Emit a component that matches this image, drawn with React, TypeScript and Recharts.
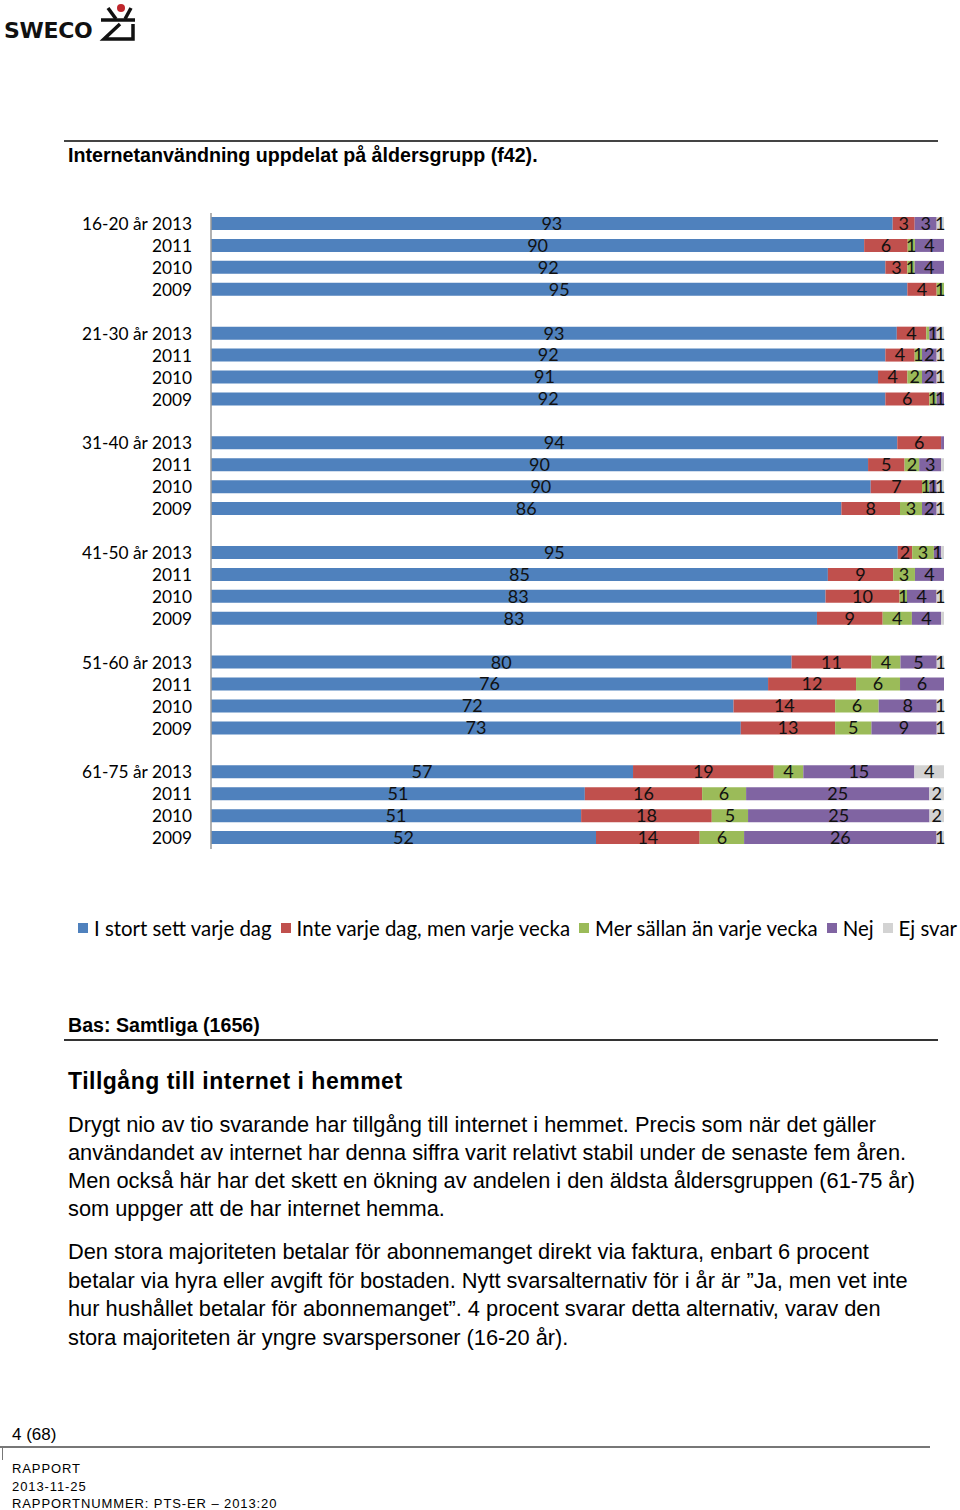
import React from 'react';
import { BarChart, Bar, XAxis, YAxis, LabelList } from 'recharts';

const groups = ['16-20 år', '21-30 år', '31-40 år', '41-50 år', '51-60 år', '61-75 år'];
const years = ['2013', '2011', '2010', '2009'];

// I stort sett varje dag
const dagligen = [93, 90, 92, 95, 93, 92, 91, 92, 94, 90, 90, 86, 95, 85, 83, 83, 80, 76, 72, 73, 57, 51, 51, 52];
// Inte varje dag, men varje vecka
const veckovis = [3, 6, 3, 4, 4, 4, 4, 6, 6, 5, 7, 8, 2, 9, 10, 9, 11, 12, 14, 13, 19, 16, 18, 14];
// Mer sällan än varje vecka
const sallan = [0, 1, 1, 1, 0.4, 1, 2, 1, 0, 2, 1, 3, 3, 3, 1, 4, 4, 6, 6, 5, 4, 6, 5, 6];
// Nej
const nej = [3, 4, 4, 0, 1, 2, 2, 1, 0.4, 3, 1, 2, 1, 4, 4, 4, 5, 6, 8, 9, 15, 25, 25, 26];
// Ej svar
const ejSvar = [1, 0, 0, 0, 1, 1, 1, 0, 0, 0.4, 1, 1, 0.4, 0, 1, 0.4, 1, 0, 1, 1, 4, 2, 2, 1];

const seriesNames = ['I stort sett varje dag', 'Inte varje dag, men varje vecka', 'Mer sällan än varje vecka', 'Nej', 'Ej svar'];
const seriesColors = ['#4F81BD', '#C0504D', '#9BBB59', '#8064A2', '#D3D3D3'];
const seriesKeys = ['d', 'v', 's', 'n', 'e'];

type Row = { id: string; label: string; d?: number; v?: number; s?: number; n?: number; e?: number };

const rows: Row[] = [];
groups.forEach((g, gi) => {
  if (gi > 0) rows.push({ id: 'gap' + gi, label: '' });
  years.forEach((y, yi) => {
    const i = gi * 4 + yi;
    rows.push({
      id: g + ' ' + y,
      label: yi === 0 ? g + ' ' + y : y,
      d: dagligen[i],
      v: veckovis[i],
      s: sallan[i],
      n: nej[i],
      e: ejSvar[i],
    });
  });
});

const labelMap: Record<string, string> = {};
rows.forEach((r) => (labelMap[r.id] = r.label));

const paragraph1 = [
  'Drygt nio av tio svarande har tillgång till internet i hemmet. Precis som när det gäller',
  'användandet av internet har denna siffra varit relativt stabil under de senaste fem åren.',
  'Men också här har det skett en ökning av andelen i den äldsta åldersgruppen (61-75 år)',
  'som uppger att de har internet hemma.',
];
const paragraph2 = [
  'Den stora majoriteten betalar för abonnemanget direkt via faktura, enbart 6 procent',
  'betalar via hyra eller avgift för bostaden. Nytt svarsalternativ för i år är ”Ja, men vet inte',
  'hur hushållet betalar för abonnemanget”. 4 procent svarar detta alternativ, varav den',
  'stora majoriteten är yngre svarspersoner (16-20 år).',
];

const fmt = (v: any) => (typeof v === 'number' && v >= 1 ? String(v) : '');

const abs = (top: number, left: number, extra: React.CSSProperties = {}): React.CSSProperties => ({
  position: 'absolute',
  top,
  left,
  whiteSpace: 'nowrap',
  ...extra,
});

export default function App() {
  return (
    <div style={{ position: 'absolute', top: 0, left: 0, width: 960, height: 1510, background: '#fff', overflow: 'hidden' }}>
      {/* Logo */}
      <div style={abs(18, 4, { fontFamily: 'DejaVu Sans', fontWeight: 'bold', fontSize: 22, color: '#111', letterSpacing: -0.3 })}>SWECO</div>
      <svg style={{ position: 'absolute', top: 0, left: 98 }} width={40} height={44}>
        <circle cx={23} cy={8} r={4} fill="#C0272D" />
        <line x1={10} y1={8} x2={18} y2={19} stroke="#111" strokeWidth={3.5} />
        <line x1={33} y1={8} x2={27} y2={19} stroke="#111" strokeWidth={3.5} />
        <line x1={3} y1={20} x2={37} y2={20} stroke="#111" strokeWidth={3.5} />
        <path d="M22 24 L6 39 L35 39 L35 24" fill="none" stroke="#111" strokeWidth={3.5} />
      </svg>

      {/* Header rule and title */}
      <div style={{ position: 'absolute', top: 140, left: 64, width: 874, height: 2, background: '#444' }} />
      <div
        style={abs(143, 68, {
          fontFamily: 'Liberation Sans',
          fontWeight: 'bold',
          fontSize: 21,
          color: '#000',
          transform: 'scaleX(0.936)',
          transformOrigin: 'left center',
        })}
      >
        Internetanvändning uppdelat på åldersgrupp (f42).
      </div>

      {/* Chart */}
      <div style={{ position: 'absolute', top: 200, left: 0 }}>
        <BarChart
          width={960}
          height={660}
          data={rows}
          layout="vertical"
          stackOffset="expand"
          barCategoryGap={0}
          margin={{ top: 13, right: 16, bottom: 11, left: 0 }}
        >
          <XAxis type="number" hide domain={[0, 1]} />
          <YAxis
            type="category"
            dataKey="id"
            width={211}
            interval={0}
            tickLine={false}
            tickSize={0}
            tickMargin={19}
            axisLine={{ stroke: '#999', strokeWidth: 1.5 }}
            tickFormatter={(v: string) => labelMap[v] ?? ''}
            tick={{ fontFamily: 'Lato', fontSize: 17.3, fill: '#000' }}
          />
          {seriesKeys.map((k, i) => (
            <Bar key={k} dataKey={k} name={seriesNames[i]} stackId="a" fill={seriesColors[i]} barSize={13} isAnimationActive={false}>
              <LabelList dataKey={k} position="center" formatter={fmt} style={{ fontFamily: 'Lato', fontSize: 18, fill: '#111' }} />
            </Bar>
          ))}
        </BarChart>
      </div>

      {/* Legend */}
      <div style={abs(916, 78, { display: 'flex', alignItems: 'center', fontFamily: 'Lato', fontSize: 20.4, color: '#000' })}>
        {seriesNames.map((n, i) => (
          <div key={n} style={{ display: 'flex', alignItems: 'center', marginRight: 9 }}>
            <span style={{ display: 'inline-block', width: 10, height: 10, background: seriesColors[i], marginRight: 6 }} />
            <span>{n}</span>
          </div>
        ))}
      </div>

      {/* Bas */}
      <div
        style={abs(1014, 68, {
          fontFamily: 'Liberation Sans',
          fontWeight: 'bold',
          fontSize: 20,
          color: '#000',
          transform: 'scaleX(0.98)',
          transformOrigin: 'left center',
        })}
      >
        Bas: Samtliga (1656)
      </div>
      <div style={{ position: 'absolute', top: 1039, left: 64, width: 874, height: 2, background: '#333' }} />

      <div style={abs(1068, 68, { fontFamily: 'Liberation Sans', fontWeight: 'bold', fontSize: 23, color: '#000', letterSpacing: 0.5 })}>
        Tillgång till internet i hemmet
      </div>

      {paragraph1.map((t, i) => (
        <div key={'p1' + i} style={abs(1112 + i * 28, 68, { fontFamily: 'Liberation Sans', fontSize: 21.8, color: '#000' })}>{t}</div>
      ))}
      {paragraph2.map((t, i) => (
        <div key={'p2' + i} style={abs(1239 + i * 28.5, 68, { fontFamily: 'Liberation Sans', fontSize: 21.8, color: '#000' })}>{t}</div>
      ))}

      {/* Footer */}
      <div style={abs(1425, 12, { fontFamily: 'Liberation Sans', fontSize: 17, color: '#000' })}>4 (68)</div>
      <div style={{ position: 'absolute', top: 1446, left: 0, width: 930, height: 1.5, background: '#777' }} />
      <div style={{ position: 'absolute', top: 1446, left: 2, width: 1, height: 14, background: '#777' }} />
      <div style={abs(1461, 12, { fontFamily: 'Liberation Sans', fontSize: 13, color: '#000', letterSpacing: 0.9 })}>RAPPORT</div>
      <div style={abs(1479, 12, { fontFamily: 'Liberation Sans', fontSize: 13, color: '#000', letterSpacing: 0.9 })}>2013-11-25</div>
      <div style={abs(1496, 12, { fontFamily: 'Liberation Sans', fontSize: 13, color: '#000', letterSpacing: 0.9 })}>RAPPORTNUMMER: PTS-ER – 2013:20</div>
    </div>
  );
}
